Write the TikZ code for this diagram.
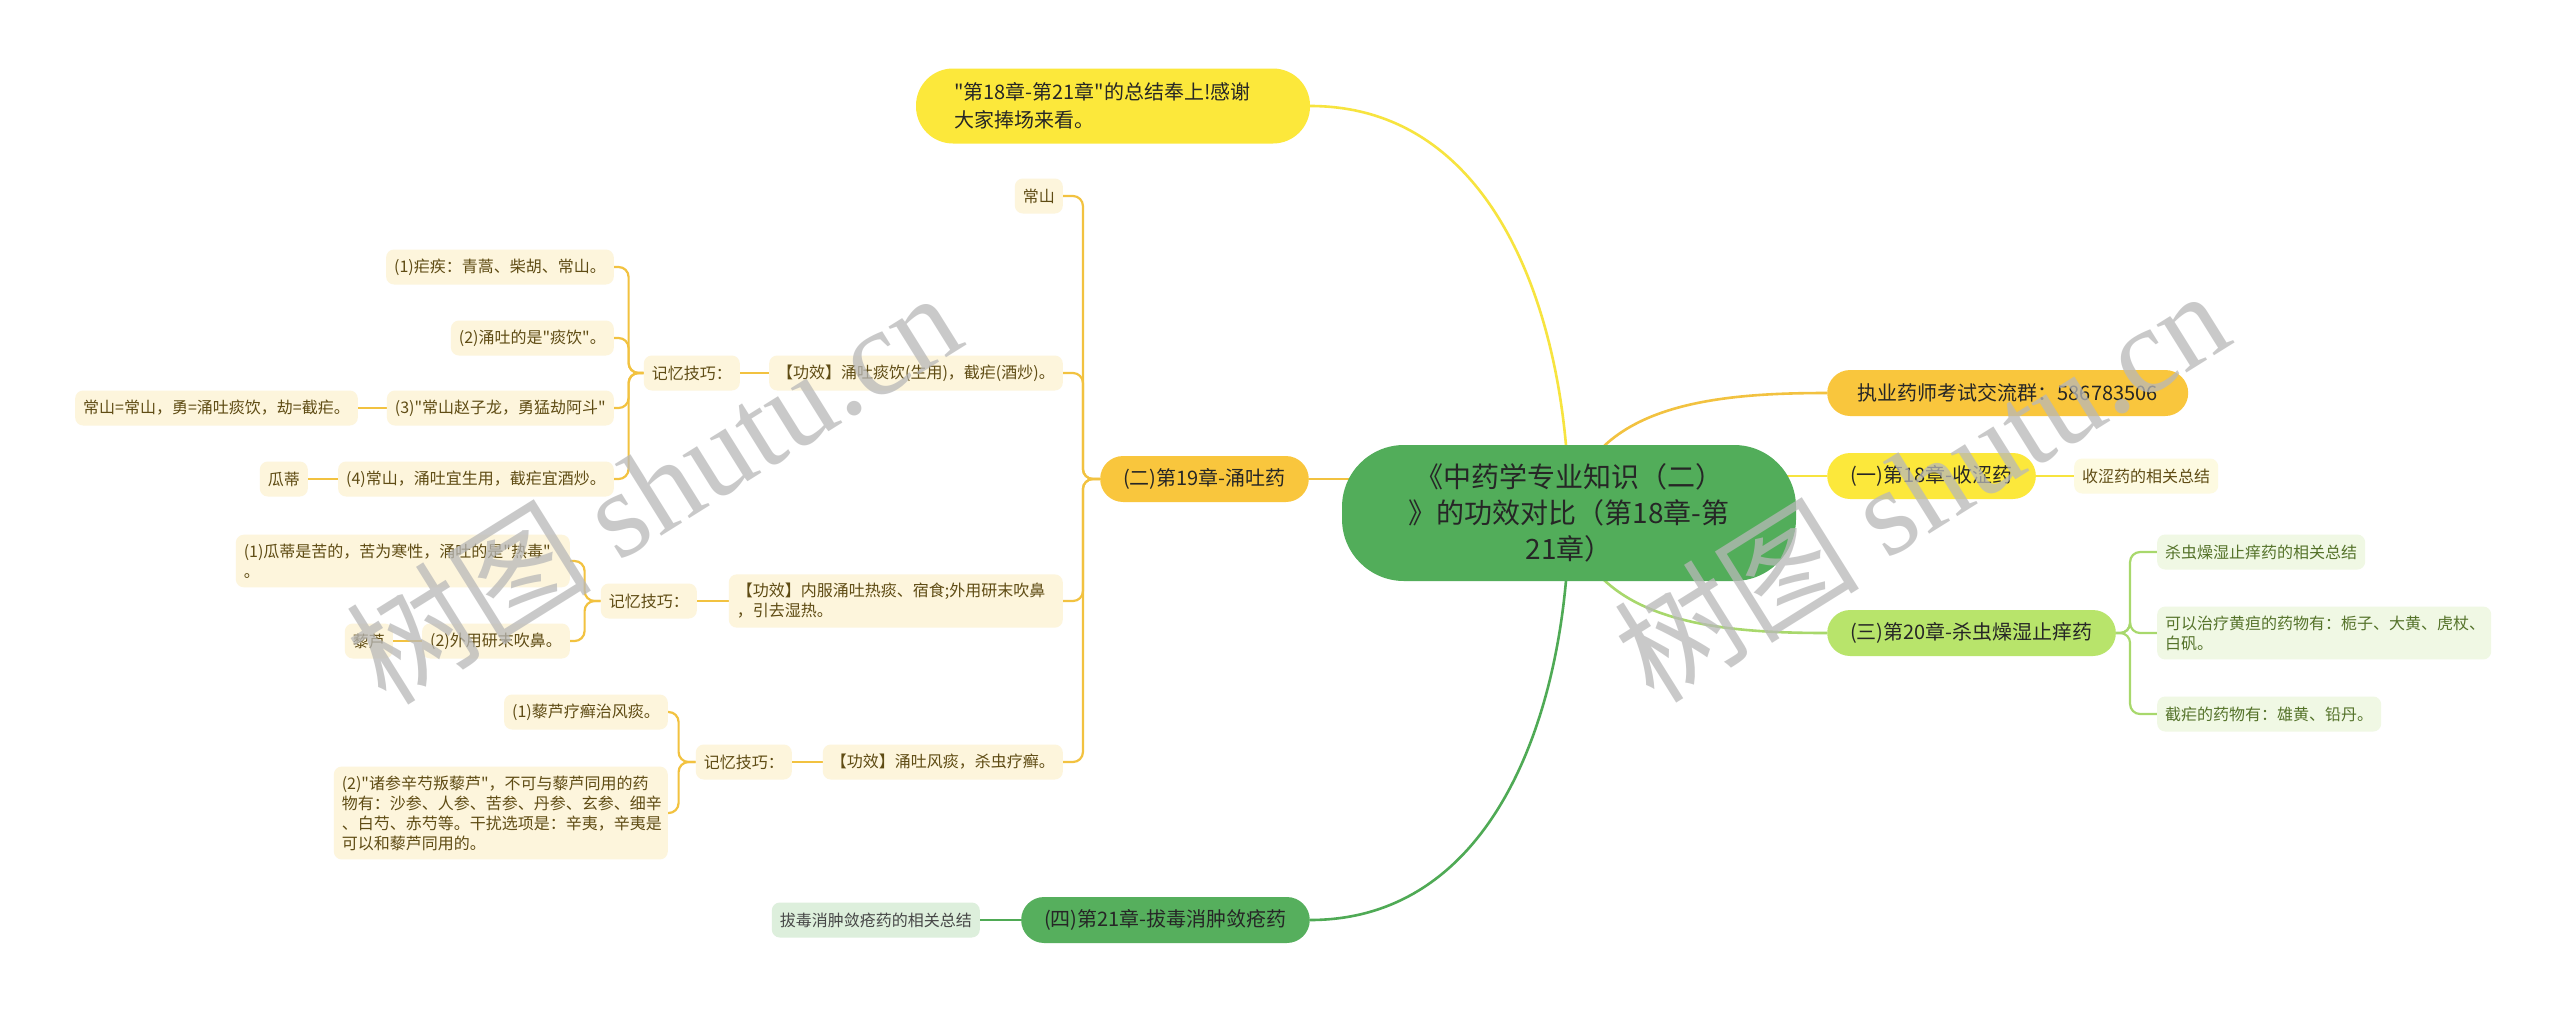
\documentclass[tikz,border=0pt]{standalone}
\usepackage{fontspec}
\setmainfont{Noto Sans CJK SC}[Ligatures=TeXOff]
\newfontfamily\wmserif{Liberation Serif}[Ligatures=TeXOff]
\usepackage{xcolor}
\usepackage{tikz}
\usetikzlibrary{calc,positioning,backgrounds}
\definecolor{zyroot}{HTML}{52AD5A}
\definecolor{zyyellow}{HTML}{FCE83B}
\definecolor{zyamber}{HTML}{F9C63D}
\definecolor{zylime}{HTML}{B8E46B}
\definecolor{zygreen}{HTML}{56AF5D}
\definecolor{zycream}{HTML}{FDF5DC}
\definecolor{zypale}{HTML}{FDFAE1}
\definecolor{zymint}{HTML}{F0F8E4}
\definecolor{zysage}{HTML}{DDEFDC}
\definecolor{zybrown}{HTML}{5F4C14}
\definecolor{zyolive}{HTML}{55732A}
\definecolor{zyink}{HTML}{262626}
\definecolor{zylineyellow}{HTML}{F7E43F}
\definecolor{zylineamber}{HTML}{F2C240}
\definecolor{zylinelime}{HTML}{A8D86C}
\definecolor{zylinegreen}{HTML}{4FAA55}

\begin{document}
\begin{tikzpicture}[x=1pt, y=-1pt,
  rootbox/.style={fill=zyroot, rounded corners=62, minimum width=454, minimum height=136, align=center, text=zyink, font=\fontsize{28}{36}\selectfont},
  chapter/.style={rounded corners=23, minimum height=46, inner xsep=23, text=zyink, font=\fontsize{20}{26}\selectfont},
  leaf/.style={rounded corners=8, minimum height=35, inner xsep=8, inner ysep=9, align=left, font=\fontsize{16}{20}\selectfont},
  leafy/.style={leaf, fill=zycream, text=zybrown},
  leafg/.style={leaf, fill=zymint, text=zyolive},
  wide/.style={text width=318},
  link/.style={line width=2.6},
  twig/.style={line width=2.2, rounded corners=10},
  wmtext/.style={text=black!28, text opacity=0.75, rotate=32, font=\fontsize{123}{123}\selectfont}
]
  \useasboundingbox (0,0) rectangle (2560,1013);

  % centre and chapters
  \node[rootbox] (root) at (1569,513) {《中药学专业知识（二）\\》的功效对比（第18章-第\\21章）};
  \node[chapter, fill=zyyellow, rounded corners=37, minimum height=75, inner xsep=38, text width=318, align=left, font=\fontsize{20}{28}\selectfont] (thanks) at (1113,106) {"第18章-第21章"的总结奉上!感谢\\大家捧场来看。};
  \node[chapter, fill=zyamber, anchor=west, minimum width=361] (qun) at (1827,393) {执业药师考试交流群：586783506};
  \node[chapter, fill=zyyellow, anchor=west] (zhang18) at (1827,476) {(一)第18章-收涩药};
  \node[chapter, fill=zyamber, anchor=east] (zhang19) at (1309,479) {(二)第19章-涌吐药};
  \node[chapter, fill=zylime, anchor=west] (zhang20) at (1827,633) {(三)第20章-杀虫燥湿止痒药};
  \node[chapter, fill=zygreen, anchor=east] (zhang21) at (1310,920) {(四)第21章-拔毒消肿敛疮药};

  % right leaves
  \node[leafy, fill=zypale, anchor=west] (shouse) at (2074,476) {收涩药的相关总结};
  \node[leafg, anchor=west] (shachong) at (2157,552) {杀虫燥湿止痒药的相关总结};
  \node[leafg, wide, anchor=west] (huangdan) at (2157,633) {可以治疗黄疸的药物有：栀子、大黄、虎杖、\\白矾。};
  \node[leafg, anchor=west] (jienue) at (2157,714) {截疟的药物有：雄黄、铅丹。};
  \node[leaf, fill=zysage, text=zyink!85, anchor=east] (badu) at (980,920) {拔毒消肿敛疮药的相关总结};

  % left branch of chapter 19
  \node[leafy, anchor=east] (changshan) at (1063,196) {常山};
  \node[leafy, anchor=east] (gongxiao1) at (1063,373) {【功效】涌吐痰饮(生用)，截疟(酒炒)。};
  \node[leafy, wide, anchor=east] (gongxiao2) at (1063,601) {【功效】内服涌吐热痰、宿食;外用研末吹鼻\\，引去湿热。};
  \node[leafy, anchor=east] (gongxiao3) at (1063,762) {【功效】涌吐风痰，杀虫疗癣。};
  \node[leafy, anchor=east] (jiyi1) at (740,373) {记忆技巧：};
  \node[leafy, anchor=east] (jiyi2) at (697,601) {记忆技巧：};
  \node[leafy, anchor=east] (jiyi3) at (792,762) {记忆技巧：};

  \node[leafy, anchor=east] (jiqiao11) at (614,267) {(1)疟疾：青蒿、柴胡、常山。};
  \node[leafy, anchor=east] (jiqiao12) at (614,338) {(2)涌吐的是"痰饮"。};
  \node[leafy, anchor=east] (jiqiao13) at (614,408) {(3)"常山赵子龙，勇猛劫阿斗"};
  \node[leafy, anchor=east] (jiqiao14) at (614,479) {(4)常山，涌吐宜生用，截疟宜酒炒。};
  \node[leafy, anchor=east] (jieshi13) at (358,408) {常山=常山，勇=涌吐痰饮，劫=截疟。};
  \node[leafy, anchor=east] (guadi) at (308,479) {瓜蒂};

  \node[leafy, wide, anchor=east] (jiqiao21) at (570,561) {(1)瓜蒂是苦的，苦为寒性，涌吐的是"热毒"\\。};
  \node[leafy, anchor=east] (jiqiao22) at (570,641) {(2)外用研末吹鼻。};
  \node[leafy, anchor=east] (lilu) at (393,641) {藜芦};

  \node[leafy, anchor=east] (jiqiao31) at (668,712) {(1)藜芦疗癣治风痰。};
  \node[leafy, wide, anchor=east] (jiqiao32) at (668,813) {(2)"诸参辛芍叛藜芦"，不可与藜芦同用的药\\物有：沙参、人参、苦参、丹参、玄参、细辛\\、白芍、赤芍等。干扰选项是：辛夷，辛夷是\\可以和藜芦同用的。};

  \begin{scope}[on background layer]
    \fill[white] (0,0) rectangle (2560,1013);
    % main curves
    \draw[link, zylineyellow] (root.center) to[out=90,in=0] (thanks.east);
    \draw[link, zylineamber] (root.center) to[out=80,in=180] (qun.west);
    \draw[link, zylineyellow] (root.center |- zhang18.west) -- (zhang18.west);
    \draw[link, zylineamber] (root.center |- zhang19.east) -- (zhang19.east);
    \draw[link, zylinelime] (root.center) to[out=-80,in=180] (zhang20.west);
    \draw[link, zylinegreen] (root.center) to[out=-90,in=0] (zhang21.east);

    \draw[twig, zylineyellow] (zhang18.east) -- (shouse.west);
    \draw[twig, zylinelime] (zhang20.east) -- ++(14,0) |- (shachong.west);
    \draw[twig, zylinelime] (zhang20.east) -- ++(14,0) |- (huangdan.west);
    \draw[twig, zylinelime] (zhang20.east) -- ++(14,0) |- (jienue.west);
    \draw[twig, zylinegreen] (zhang21.west) -- (badu.east);

    \draw[twig, zylineamber] (zhang19.west) -- ++(-17,0) |- (changshan.east);
    \draw[twig, zylineamber] (zhang19.west) -- ++(-17,0) |- (gongxiao1.east);
    \draw[twig, zylineamber] (zhang19.west) -- ++(-17,0) |- (gongxiao2.east);
    \draw[twig, zylineamber] (zhang19.west) -- ++(-17,0) |- (gongxiao3.east);
    \draw[twig, zylineamber] (gongxiao1.west) -- (jiyi1.east);
    \draw[twig, zylineamber] (gongxiao2.west) -- (jiyi2.east);
    \draw[twig, zylineamber] (gongxiao3.west) -- (jiyi3.east);

    \draw[twig, zylineamber] (jiyi1.west) -- ++(-15,0) |- (jiqiao11.east);
    \draw[twig, zylineamber] (jiyi1.west) -- ++(-15,0) |- (jiqiao12.east);
    \draw[twig, zylineamber] (jiyi1.west) -- ++(-15,0) |- (jiqiao13.east);
    \draw[twig, zylineamber] (jiyi1.west) -- ++(-15,0) |- (jiqiao14.east);
    \draw[twig, zylineamber] (jiqiao13.west) -- (jieshi13.east);
    \draw[twig, zylineamber] (jiqiao14.west) -- (guadi.east);

    \draw[twig, zylineamber] (jiyi2.west) -- ++(-16,0) |- (jiqiao21.east);
    \draw[twig, zylineamber] (jiyi2.west) -- ++(-16,0) |- (jiqiao22.east);
    \draw[twig, zylineamber] (jiqiao22.west) -- (lilu.east);

    \draw[twig, zylineamber] (jiyi3.west) -- ++(-17,0) |- (jiqiao31.east);
    \draw[twig, zylineamber] (jiyi3.west) -- ++(-17,0) |- (jiqiao32.east);
  \end{scope}

  % watermarks
  \node[wmtext] (wmleft) at (653,486) {树图 {\wmserif shutu.cn}};
  \node[wmtext] (wmright) at (1921,484) {树图 {\wmserif shutu.cn}};
\end{tikzpicture}
\end{document}
